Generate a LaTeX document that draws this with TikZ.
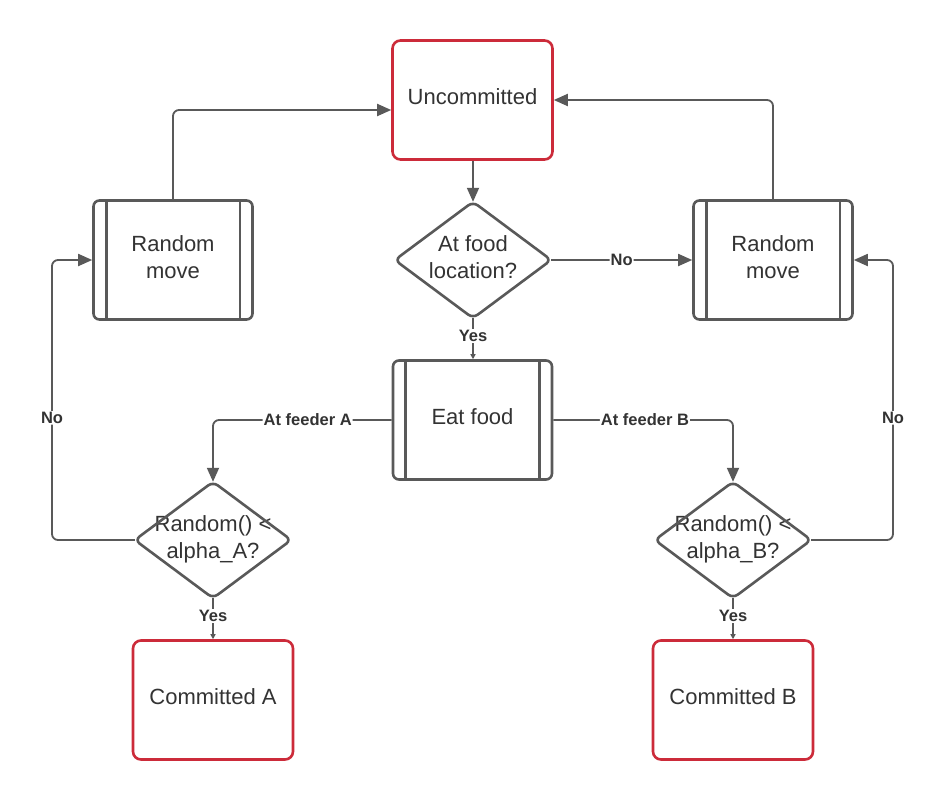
\documentclass[tikz,border=0pt]{standalone}
\usepackage{fontspec}
\setmainfont{Liberation Sans}
\usetikzlibrary{arrows.meta,calc}
\definecolor{lc}{HTML}{595959}
\definecolor{rc}{HTML}{CC2B3A}
\definecolor{tc}{HTML}{333333}
\tikzset{
  x=1pt,y=-1pt,
  txt/.style={text=tc,font=\fontsize{22}{27}\selectfont,align=center,inner sep=0pt},
  statebox/.style={draw=rc,line width=2.6pt,rounded corners=8pt,minimum width=160pt,minimum height=119pt,inner sep=0pt},
  procbox/.style={draw=lc,line width=2.6pt,rounded corners=6pt,minimum width=159pt,minimum height=119pt,inner sep=0pt},
  dia/.style={minimum width=156pt,minimum height=116pt,inner sep=0pt},
  tx/.style={label={[txt,yshift=3pt]center:{#1}}},
  txl/.style={label={[txt,yshift=0.5pt]center:{#1}}},
  diaborder/.style={draw=lc,line width=2.6pt,rounded corners=6pt},
  conn/.style={draw=lc,line width=1.8pt,rounded corners=6pt,-{Triangle[length=14pt,width=12pt]}},
  sconn/.style={draw=lc,line width=1.8pt,-{Triangle[length=5pt,width=5pt]}},
  lbl/.style={fill=white,text=tc,font=\fontsize{16.5}{18}\selectfont\bfseries,inner sep=1pt}
}
\newcommand{\procbars}[1]{%
  \draw[lc,line width=2.6pt] ([xshift=14pt]#1.north west) -- ([xshift=14pt]#1.south west);
  \draw[lc,line width=2.6pt] ([xshift=-14pt]#1.north east) -- ([xshift=-14pt]#1.south east);}
\newcommand{\diashape}[1]{%
  \draw[diaborder] (#1.north) -- (#1.east) -- (#1.south) -- (#1.west) -- cycle;}
\begin{document}
\begin{tikzpicture}
\useasboundingbox[fill=white] (0,0) rectangle (947,800);
\node[statebox,tx={Uncommitted}] (unc) at (472.5,100) {};
\node[dia,tx={At food\\location?}] (food) at (473,260) {};
\diashape{food}
\node[procbox,tx={Random\\move}] (rml) at (173,260) {};
\procbars{rml}
\node[procbox,tx={Random\\move}] (rmr) at (773,260) {};
\procbars{rmr}
\node[procbox,tx={Eat food}] (eat) at (472.5,420) {};
\procbars{eat}
\node[dia,txl={Random() <\\alpha\_A?}] (da) at (213,540) {};
\diashape{da}
\node[dia,txl={Random() <\\alpha\_B?}] (db) at (733,540) {};
\diashape{db}
\node[statebox,tx={Committed A}] (ca) at (213,700) {};
\node[statebox,tx={Committed B}] (cb) at (733,700) {};

\coordinate (ulin) at ($(unc.west)+(0,10)$);
\draw[conn] (rml.north) |- (ulin);
\draw[conn] (rmr.north) |- (unc.east);
\draw[conn] (unc.south -| food.north) -- (food.north);
\draw[conn] (food.east) -- node[lbl] {No} (rmr.west);
\draw[sconn] (food.south) -- node[lbl,pos=0.43] {Yes} (eat.north -| food.south);
\draw[conn] (eat.west) -- node[lbl,pos=0.47] {At feeder A} (da.north |- eat.west) -- (da.north);
\draw[conn] (eat.east) -- node[lbl,pos=0.51] {At feeder B} (db.north |- eat.east) -- (db.north);
\coordinate (lx) at (52,540);
\coordinate (rx) at (893,540);
\draw[conn] (da.west) -- (lx) -- node[lbl,pos=0.436] {No} (lx |- rml.west) -- (rml.west);
\draw[conn] (db.east) -- (rx) -- node[lbl,pos=0.436] {No} (rx |- rmr.east) -- (rmr.east);
\draw[sconn] (da.south) -- node[lbl,pos=0.43] {Yes} (ca.north);
\draw[sconn] (db.south) -- node[lbl,pos=0.43] {Yes} (cb.north);
\end{tikzpicture}
\end{document}
